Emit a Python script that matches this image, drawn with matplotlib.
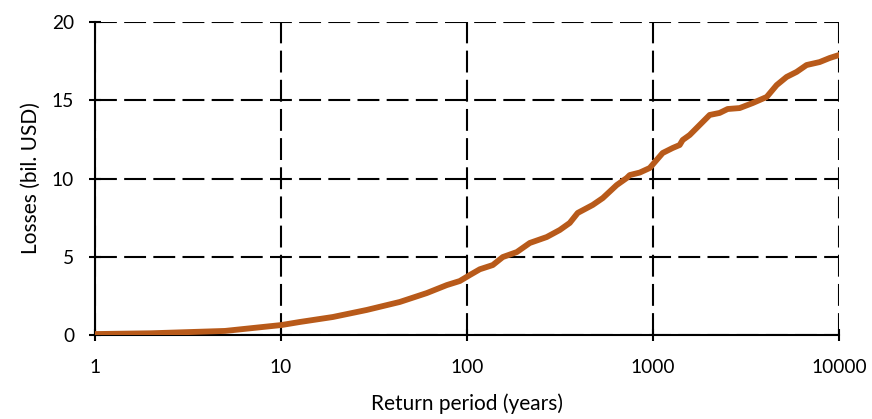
import matplotlib
matplotlib.use("Agg")
import matplotlib.pyplot as plt
from matplotlib.ticker import FixedLocator, FixedFormatter, NullLocator

plt.rcParams['font.family'] = ['Lato', 'DejaVu Sans']

# Return period (years) and losses (bil. USD)
return_period = [1.0, 2.0, 5.0, 10.1, 12.6, 19.0, 28.9, 43.5, 60.8, 77.9, 91.5,
                 103.5, 117.2, 137.6, 155.7, 185.3, 217.5, 268.3, 315.4, 356.7,
                 393.8, 474.2, 537, 638, 722, 750, 849, 960, 1127, 1276, 1391,
                 1444, 1575, 1718, 1849, 2017, 2282, 2519, 2923, 3434, 4085,
                 4624, 5230, 5916, 6693, 7870, 8912, 10000]
losses = [0.06, 0.11, 0.26, 0.64, 0.83, 1.15, 1.60, 2.11, 2.68, 3.19, 3.45,
          3.83, 4.20, 4.47, 4.98, 5.30, 5.88, 6.26, 6.71, 7.16,
          7.80, 8.31, 8.75, 9.58, 10.03, 10.22, 10.38, 10.67, 11.63, 11.95, 12.14,
          12.46, 12.78, 13.23, 13.61, 14.06, 14.19, 14.44, 14.50, 14.82, 15.21,
          15.97, 16.49, 16.81, 17.25, 17.44, 17.70, 17.89]

x_ticks = [1, 10, 100, 1000, 10000]
x_tick_labels = ["1", "10", "100", "1000", "10000"]
y_ticks = [0, 5, 10, 15, 20]
y_tick_labels = ["0", "5", "10", "15", "20"]

fig = plt.figure(figsize=(8.72, 4.19), dpi=100)
ax = fig.add_axes([95/872, 1 - 335/419, (839-95)/872, (335-22)/419])

ax.plot(return_period, losses, color='#B85A1A', lw=4.2, solid_capstyle='round',
        solid_joinstyle='round', zorder=3)

ax.set_xscale('log')
ax.set_xlim(1, 10000)
ax.set_ylim(0, 20)

ax.xaxis.set_major_locator(FixedLocator(x_ticks))
ax.xaxis.set_major_formatter(FixedFormatter(x_tick_labels))
ax.xaxis.set_minor_locator(NullLocator())
ax.yaxis.set_major_locator(FixedLocator(y_ticks))
ax.yaxis.set_major_formatter(FixedFormatter(y_tick_labels))

ax.grid(True, which='major', color='black', lw=1.5, linestyle=(0, (10.5, 3.5)))
ax.set_axisbelow(True)

for s in ['top', 'right']:
    ax.spines[s].set_visible(False)
for s in ['left', 'bottom']:
    ax.spines[s].set_linewidth(1.5)
    ax.spines[s].set_color('black')

ax.tick_params(axis='both', which='major', direction='inout', length=9, width=1.5,
               colors='black', labelsize=13.8)
ax.tick_params(axis='x', pad=13)
ax.tick_params(axis='y', pad=10.5)

for lab in ax.get_xticklabels() + ax.get_yticklabels():
    lab.set_clip_on(False)

ax.set_xlabel('Return period (years)', fontsize=15, labelpad=12)
ax.set_ylabel('Losses (bil. USD)', fontsize=15, labelpad=8)

fig.savefig('out.png', dpi=100)
